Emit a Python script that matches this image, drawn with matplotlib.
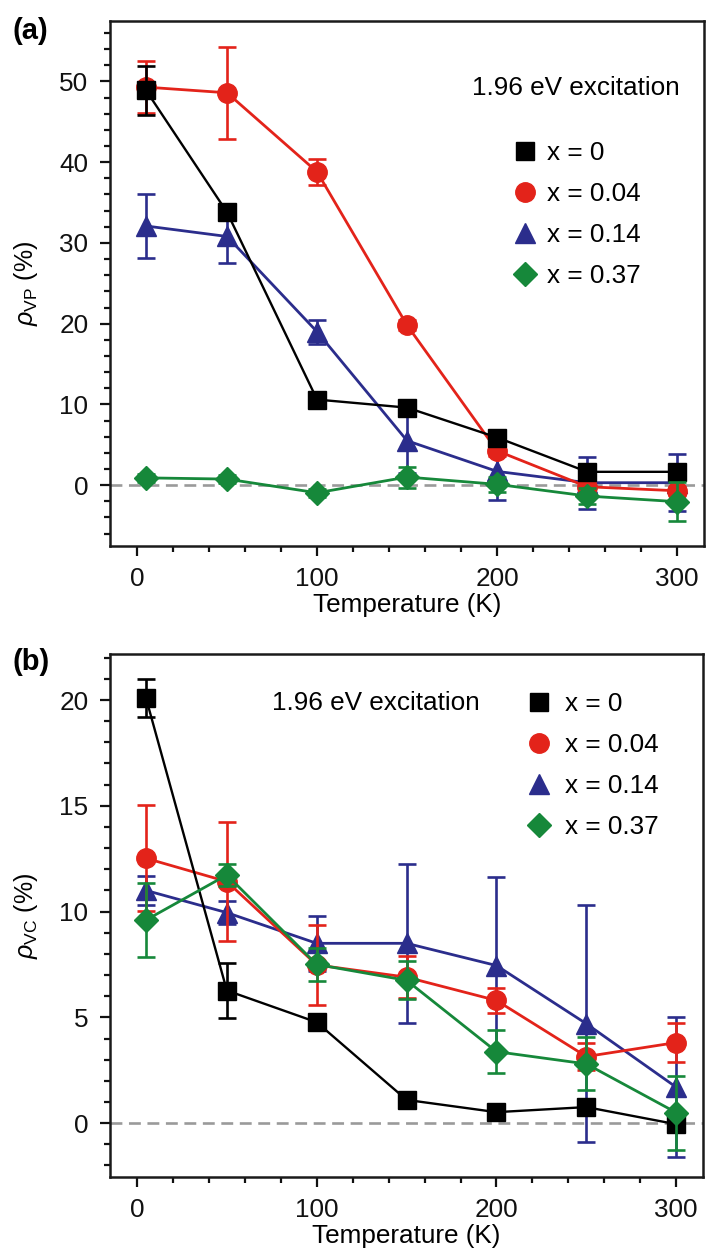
import matplotlib
matplotlib.use("Agg")
import matplotlib.pyplot as plt
from matplotlib.lines import Line2D
from matplotlib.ticker import MultipleLocator

plt.rcParams["font.family"] = ["Liberation Sans", "DejaVu Sans"]
plt.rcParams["mathtext.fontset"] = "custom"
plt.rcParams["mathtext.rm"] = "Liberation Sans"
plt.rcParams["mathtext.it"] = "Liberation Sans:italic"

# Temperatures (K) and doping labels
TEMPS = [5, 50, 100, 150, 200, 250, 300]
DOPING_LABELS = ["x = 0", "x = 0.04", "x = 0.14", "x = 0.37"]

# Valley polarization rho_VP (%), one list per doping
VP_X000 = [48.9, 33.8, 10.6, 9.6, 5.9, 1.65, 1.65]
VP_X000_ERR = [3.0, 0.5, 0.5, 0.5, 0.5, 0.5, 0.5]
VP_X004 = [49.3, 48.6, 38.8, 19.8, 4.25, -0.2, -0.7]
VP_X004_ERR = [3.2, 5.7, 1.6, 0.6, 0.6, 0.5, 0.5]
VP_X014 = [32.1, 30.8, 19.0, 5.5, 1.7, 0.3, 0.3]
VP_X014_ERR = [4.0, 3.3, 1.5, 4.0, 3.5, 3.2, 3.5]
VP_X037 = [0.9, 0.75, -0.95, 1.0, 0.1, -1.35, -2.05]
VP_X037_ERR = [0.5, 0.5, 0.5, 1.3, 0.9, 1.0, 2.4]

# Valley coherence rho_VC (%), one list per doping
VC_X000 = [20.1, 6.27, 4.77, 1.1, 0.52, 0.76, -0.05]
VC_X000_ERR = [0.9, 1.3, 0.2, 0.2, 0.2, 0.2, 0.2]
VC_X004 = [12.52, 11.42, 7.48, 6.9, 5.8, 3.15, 3.81]
VC_X004_ERR = [2.5, 2.8, 1.9, 1.0, 0.6, 0.65, 0.93]
VC_X014 = [11.0, 9.95, 8.5, 8.5, 7.45, 4.7, 1.7]
VC_X014_ERR = [0.7, 0.55, 1.3, 3.75, 4.2, 5.6, 3.3]
VC_X037 = [9.6, 11.73, 7.5, 6.75, 3.38, 2.8, 0.5]
VC_X037_ERR = [1.75, 0.5, 0.8, 0.9, 1.0, 1.25, 1.75]

CLR_LST = ["#000000", "#e3231a", "#2b2d8c", "#16883a"]
MARKER_LST = ["s", "o", "^", "D"]
MSIZE_LST = [13, 14, 15, 12]
# draw order: blue under red under black under green
ZORDER_LST = [4, 3, 2, 5]

FS = 18.8


def style_axis(ax, ylim, ymajor, yminor, ylabel):
    ax.set_xlim(-15, 315)
    ax.set_ylim(*ylim)
    ax.xaxis.set_major_locator(MultipleLocator(100))
    ax.xaxis.set_minor_locator(MultipleLocator(20))
    ax.yaxis.set_major_locator(MultipleLocator(ymajor))
    ax.yaxis.set_minor_locator(MultipleLocator(yminor))
    ax.tick_params(which="both", direction="out", width=1.6, colors="#111111",
                   labelsize=FS, pad=8, top=False, right=False)
    ax.tick_params(which="major", length=7.5)
    ax.tick_params(which="minor", length=4)
    for sp in ax.spines.values():
        sp.set_linewidth(1.8)
        sp.set_color("#1a1a1a")
    ax.axhline(0, color="#9a9a9a", linestyle=(0, (4.5, 2.5)), linewidth=1.9, zorder=1)
    ax.set_xlabel("Temperature (K)", fontsize=FS, labelpad=1)
    ax.set_ylabel(ylabel, fontsize=18, labelpad=14)


def plot_series(ax, vals_lst, errs_lst):
    for i, (vals, errs) in enumerate(zip(vals_lst, errs_lst)):
        ax.errorbar(
            TEMPS, vals, yerr=errs,
            color=CLR_LST[i],
            marker=MARKER_LST[i],
            markersize=MSIZE_LST[i],
            linewidth=2.0 if i else 1.7,
            elinewidth=1.9,
            capsize=6.5,
            capthick=1.9,
            zorder=ZORDER_LST[i],
        )


def add_legend(ax, anchor, textpad):
    handles = [
        Line2D([], [], linestyle="none", color=CLR_LST[i], marker=MARKER_LST[i],
               markersize=MSIZE_LST[i])
        for i in range(len(DOPING_LABELS))
    ]
    ax.legend(handles, DOPING_LABELS, loc="upper left", bbox_to_anchor=anchor,
              frameon=False, fontsize=FS, borderpad=0, borderaxespad=0,
              handlelength=1.0, handletextpad=textpad, labelspacing=0.65)


def main():
    fig = plt.figure(figsize=(7.07, 12.53), dpi=100)
    ax_a = fig.add_axes([0.1556, 0.5645, 0.8404, 0.4188])
    ax_b = fig.add_axes([0.1556, 0.0609, 0.8390, 0.4169])

    # Panel (a): valley polarization
    plot_series(ax_a, [VP_X000, VP_X004, VP_X014, VP_X037],
                [VP_X000_ERR, VP_X004_ERR, VP_X014_ERR, VP_X037_ERR])
    style_axis(ax_a, (-7.5, 57.5), 10, 2, r"$\rho_{\mathrm{VP}}$ (%)")
    ax_a.text(0.61, 0.872, "1.96 eV excitation", transform=ax_a.transAxes,
              fontsize=FS, va="center", ha="left")
    add_legend(ax_a, (0.676, 0.771), 0.35)

    # Panel (b): valley coherence
    plot_series(ax_b, [VC_X000, VC_X004, VC_X014, VC_X037],
                [VC_X000_ERR, VC_X004_ERR, VC_X014_ERR, VC_X037_ERR])
    style_axis(ax_b, (-2.53, 22.16), 5, 1, r"$\rho_{\mathrm{VC}}$ (%)")
    ax_b.text(0.2725, 0.907, "1.96 eV excitation", transform=ax_b.transAxes,
              fontsize=FS, va="center", ha="left")
    add_legend(ax_b, (0.702, 0.927), 0.46)

    fig.text(0.018, 1 - 31 / 1253, "(a)", fontsize=21, fontweight="bold", va="center")
    fig.text(0.018, 1 - 662 / 1253, "(b)", fontsize=21, fontweight="bold", va="center")

    fig.savefig("out.png", dpi=100)


if __name__ == "__main__":
    main()
